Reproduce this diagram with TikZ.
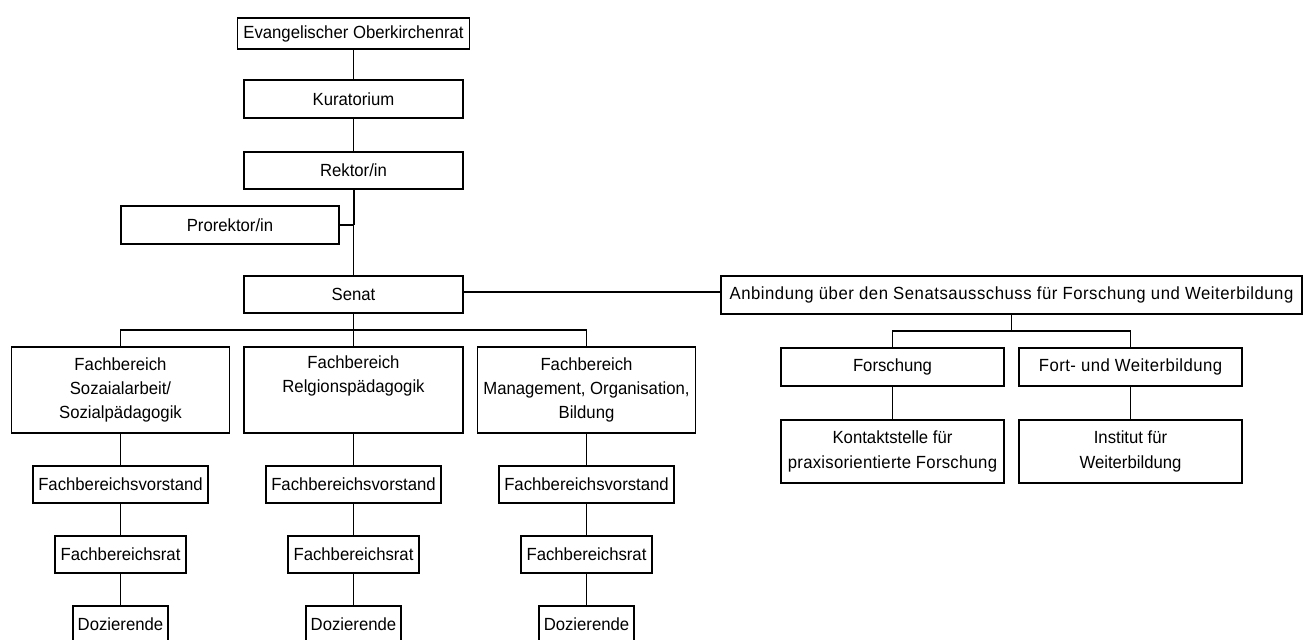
\documentclass[tikz,border=0pt]{standalone}
\usepackage{fontspec}
\setmainfont{Liberation Sans}[FakeStretch=0.95]
\begin{document}
\begin{tikzpicture}[x=0.5pt,y=-0.5pt,
  box/.style={draw=black, line width=0.6pt, inner sep=0pt, align=center,
    font=\fontsize{8.8}{12.2}\selectfont, fill=white},
  conn/.style={draw=black, line width=0.6pt},
  thickconn/.style={draw=black, line width=1pt}]
\useasboundingbox (0,0) rectangle (1312,640);
% top chain
\node[box, minimum width=116pt, minimum height=15.5pt] (ev) at (353.5,33.5) {Evangelischer Oberkirchenrat};
\node[box, minimum width=109.5pt, minimum height=19pt] (kur) at (353.5,99) {Kuratorium};
\node[box, minimum width=109.5pt, minimum height=18.5pt] (rek) at (353.5,170.5) {Rektor/in};
\node[box, minimum width=109pt, minimum height=19pt] (pro) at (230,225) {Prorektor/in};
\node[box, minimum width=109.5pt, minimum height=18.5pt] (sen) at (353.5,294.5) {Senat};
\node[box, minimum width=290.5pt, minimum height=19pt] (anb) at (1011.5,295) {\addfontfeature{LetterSpace=3}Anbindung über den Senatsausschuss für Forschung und Weiterbildung};
% Fachbereiche
\node[box, minimum width=109pt, minimum height=43pt] (fb1) at (120.5,390) {Fachbereich\\Sozaialarbeit/\\Sozialpädagogik};
\node[box, minimum width=109.5pt, minimum height=43pt] (fb2) at (353.5,390) {Fachbereich\\Relgionspädagogik\\\strut};
\node[box, minimum width=109pt, minimum height=43pt] (fb3) at (586.5,390) {Fachbereich\\Management, Organisation,\\Bildung};
\node[box, minimum width=87.5pt, minimum height=18.5pt] (v1) at (120.5,484.5) {Fachbereichsvorstand};
\node[box, minimum width=87.5pt, minimum height=18.5pt] (v2) at (353.5,484.5) {Fachbereichsvorstand};
\node[box, minimum width=87.5pt, minimum height=18.5pt] (v3) at (586.5,484.5) {Fachbereichsvorstand};
\node[box, minimum width=65.5pt, minimum height=18.5pt] (r1) at (120.5,554.5) {Fachbereichsrat};
\node[box, minimum width=65.5pt, minimum height=18.5pt] (r2) at (353.5,554.5) {Fachbereichsrat};
\node[box, minimum width=65.5pt, minimum height=18.5pt] (r3) at (586.5,554.5) {Fachbereichsrat};
\node[box, minimum width=47.5pt, minimum height=18.5pt] (d1) at (120.5,624.5) {Dozierende};
\node[box, minimum width=47.5pt, minimum height=18.5pt] (d2) at (353.5,624.5) {Dozierende};
\node[box, minimum width=47.5pt, minimum height=18.5pt] (d3) at (586.5,624.5) {Dozierende};
% right branch
\node[box, minimum width=111.5pt, minimum height=19pt] (fo) at (892.5,367) {Forschung};
\node[box, minimum width=111.5pt, minimum height=19pt] (fw) at (1130.5,367) {\addfontfeature{LetterSpace=2.5}Fort- und Weiterbildung};
\node[box, minimum width=111.5pt, minimum height=31.5pt] (ko) at (892.5,451.5) {Kontaktstelle für\\{\addfontfeature{LetterSpace=1.5}praxisorientierte Forschung}};
\node[box, minimum width=111.5pt, minimum height=31.5pt] (inst) at (1130.5,451.5) {Institut für\\Weiterbildung};
% junctions
\coordinate (j) at (353.5,225);
\coordinate (bus) at (353.5,330);
\coordinate (bus2) at (1011.5,331);
% connectors
\draw[conn] (ev.south) -- (kur.north);
\draw[conn] (kur.south) -- (rek.north);
\draw[thickconn] (rek.south) -- (j);
\draw[conn] (j) -- (sen.north);
\draw[thickconn] (pro.east) -- (j);
\draw[thickconn] ([yshift=1.25pt]sen.east) -- ([yshift=1.25pt]sen.east -| anb.west);
\draw[conn] (sen.south) -- (fb2.north);
\draw[conn] (fb1.north) |- (bus) -| (fb3.north);
\draw[conn] (fb1.south) -- (v1.north);
\draw[conn] (fb2.south) -- (v2.north);
\draw[conn] (fb3.south) -- (v3.north);
\draw[conn] (v1.south) -- (r1.north);
\draw[conn] (v2.south) -- (r2.north);
\draw[conn] (v3.south) -- (r3.north);
\draw[conn] (r1.south) -- (d1.north);
\draw[conn] (r2.south) -- (d2.north);
\draw[conn] (r3.south) -- (d3.north);
\draw[conn] (anb.south) -- (bus2);
\draw[conn] (fo.north) |- (bus2) -| (fw.north);
\draw[conn] (fo.south) -- (ko.north);
\draw[conn] (fw.south) -- (inst.north);
\end{tikzpicture}
\end{document}
